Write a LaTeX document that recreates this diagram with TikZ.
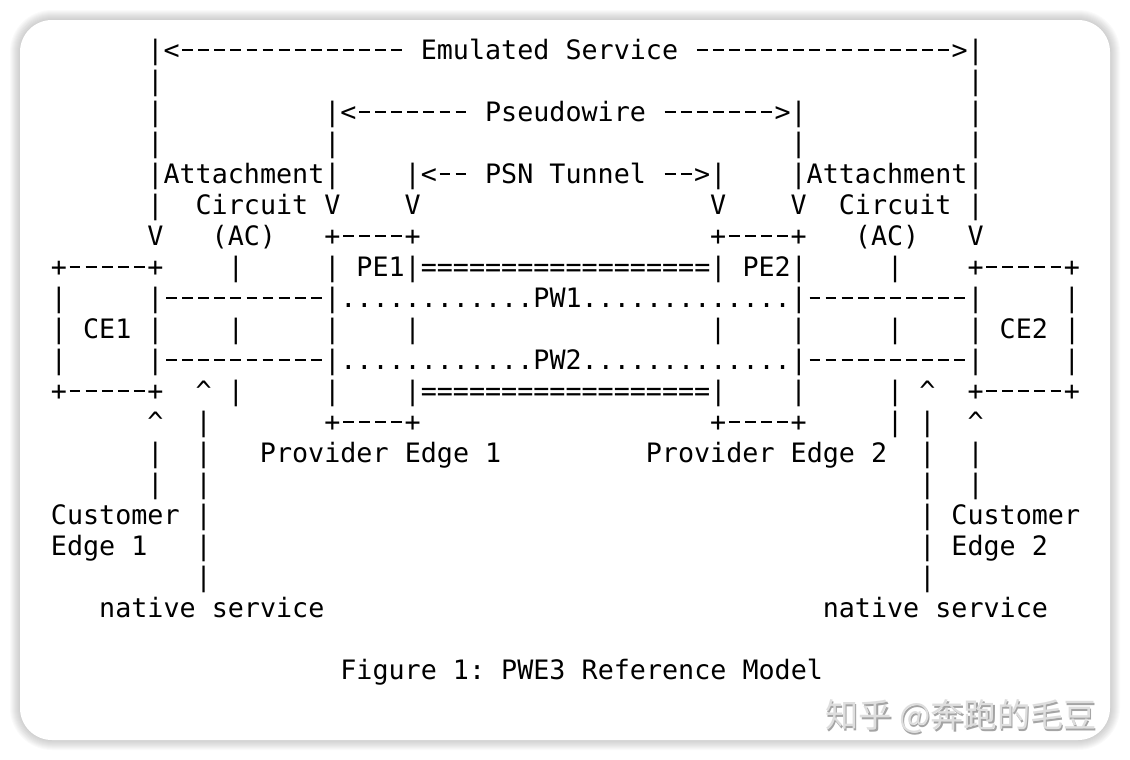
\documentclass[tikz,border=0pt]{standalone}
\usepackage{fontspec}
\setmonofont{DejaVu Sans Mono}
\newfontfamily\cjkfont{Noto Sans CJK SC}
\definecolor{MarkGray}{HTML}{DEDEDE}
\definecolor{MarkEdge}{HTML}{A4A4A4}
% one monospace cell holding a long dash, and n of them
\newcommand\dsh{\makebox[8.04pt][c]{\rule[4pt]{5.4pt}{1pt}}}
\ExplSyntaxOn
\cs_new:Npn \dashes #1 {\prg_replicate:nn{#1}{\dsh}}
\ExplSyntaxOff

\begin{document}
\begin{tikzpicture}[x=0.5pt,y=-0.5pt,line cap=round,line join=round,
  ascii/.style={anchor=base west,inner sep=0pt,font=\ttfamily\fontsize{13.36pt}{15.5pt}\selectfont}]
  \useasboundingbox (0,0) rectangle (1130,760);
  \coordinate (NW) at (20,20);\coordinate (SE) at (1110,740);
  % card and its soft shadow
  \foreach \w in {1,...,10}{\draw[black,opacity=.02,line width=\w pt,rounded corners=16pt] (NW) rectangle (SE);}
  \fill[white,rounded corners=16pt] (NW) rectangle (SE);
  % row/column/text of the figure
  \foreach \r/\c/\s in {
    0/9/{|<\dashes{14} Emulated Service \dashes{16}>|},
    1/9/{|},1/60/{|},
    2/9/{|},2/20/{|<\dashes{7} Pseudowire \dashes{7}>|},2/60/{|},
    3/9/{|},3/20/{|},3/49/{|},3/60/{|},
    4/9/{|Attachment|},4/25/{|<\dashes{2} PSN Tunnel \dashes{2}>|},4/49/{|Attachment|},
    5/9/{|},5/12/{Circuit V},5/25/{V},5/44/{V},5/49/{V},5/52/{Circuit |},
    6/9/{V},6/13/{(AC)},6/20/{+\dashes{4}+},6/44/{+\dashes{4}+},6/53/{(AC)},6/60/{V},
    7/3/{+\dashes{5}+},7/14/{|},7/20/{| PE1|==================| PE2|},7/55/{|},7/60/{+\dashes{5}+},
    8/3/{|},8/9/{|\dashes{10}|............PW1.............|\dashes{10}|},8/66/{|},
    9/3/{| CE1 |},9/14/{|},9/20/{|},9/25/{|},9/44/{|},9/49/{|},9/55/{|},9/60/{| CE2 |},
    10/3/{|},10/9/{|\dashes{10}|............PW2.............|\dashes{10}|},10/66/{|},
    11/3/{+\dashes{5}+},11/12/{\textasciicircum{} |},11/20/{|},11/25/{|==================|},11/49/{|},11/55/{| \textasciicircum},11/60/{+\dashes{5}+},
    12/9/{\textasciicircum},12/12/{|},12/20/{+\dashes{4}+},12/44/{+\dashes{4}+},12/55/{| |},12/60/{\textasciicircum},
    13/9/{|},13/12/{|},13/16/{Provider Edge 1},13/40/{Provider Edge 2},13/57/{|},13/60/{|},
    14/9/{|},14/12/{|},14/57/{|},14/60/{|},
    15/3/{Customer |},15/57/{| Customer},
    16/3/{Edge 1},16/12/{|},16/57/{| Edge 2},
    17/12/{|},17/57/{|},
    18/6/{native service},18/51/{native service},
    20/21/{Figure 1: PWE3 Reference Model}}
    {\node[ascii] (r\r-\c) at ({2.3+16.08*\c},{59+31*\r}) {\s};}
  % watermark
  \node[anchor=base west,inner sep=0pt,font=\cjkfont\fontsize{16.6pt}{17pt}\selectfont,text=MarkEdge] (markshade) at (826.5,729) {知乎 @奔跑的毛豆};
  \node[anchor=base west,inner sep=0pt,font=\cjkfont\fontsize{16.6pt}{17pt}\selectfont,text=MarkGray] (mark) at (825,727.5) {知乎 @奔跑的毛豆};
\end{tikzpicture}
\end{document}
